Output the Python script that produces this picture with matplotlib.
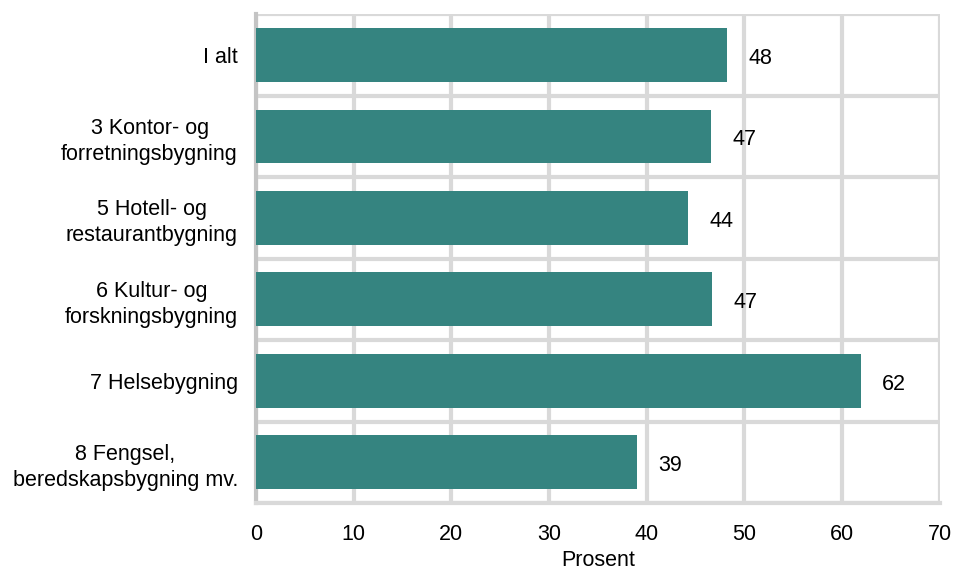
import matplotlib
matplotlib.use('Agg')
import matplotlib.pyplot as plt
import numpy as np

plt.rcParams['font.family'] = ['Liberation Sans', 'DejaVu Sans']

categories = ['I alt',
              '3 Kontor- og\nforretningsbygning',
              '5 Hotell- og\nrestaurantbygning',
              '6 Kultur- og\nforskningsbygning',
              '7 Helsebygning',
              '8 Fengsel,\nberedskapsbygning mv.']
values = [48.2, 46.6, 44.2, 46.7, 61.9, 39.0]
labels = ['48', '47', '44', '47', '62', '39']
xticks = [0, 10, 20, 30, 40, 50, 60, 70]

bar_color = '#358480'
grid_color = '#d9d9d9'
fs = 15.5

fig = plt.figure(figsize=(9.59, 5.70), dpi=100)
ax = fig.add_axes([0.267, 0.1175, 0.713, 0.8575])

y = np.arange(len(categories))
ax.barh(y, values, height=0.66, color=bar_color, zorder=3)

# value labels just right of each bar
for yi, v, lab in zip(y, values, labels):
    ax.text(v + 2.2, yi + 0.04, lab, va='center', ha='left', fontsize=fs, color='black', zorder=4)

ax.set_xlim(0, 70)
ax.set_ylim(len(categories) - 0.5, -0.5)
ax.set_xticks(xticks)
ax.set_xticklabels([str(t) for t in xticks], fontsize=fs)
ax.set_yticks(y)
ax.set_yticklabels(categories, fontsize=fs, linespacing=1.3, multialignment='center')
ax.set_yticks(np.arange(-0.5, len(categories), 1.0), minor=True)
ax.tick_params(axis='both', which='both', length=0)
ax.tick_params(axis='x', pad=15)
ax.tick_params(axis='y', pad=13)

ax.grid(axis='x', color=grid_color, linewidth=3, zorder=1)
ax.grid(axis='y', which='minor', color=grid_color, linewidth=3, zorder=1)
ax.grid(axis='y', which='major', visible=False)

for s in ['top', 'right']:
    ax.spines[s].set_visible(False)
ax.spines['left'].set_color('#c4c4c4')
ax.spines['left'].set_linewidth(3)
ax.spines['bottom'].set_color(grid_color)
ax.spines['bottom'].set_linewidth(3)

ax.set_xlabel('Prosent', fontsize=fs, labelpad=4)

fig.savefig('out.png', dpi=100)
